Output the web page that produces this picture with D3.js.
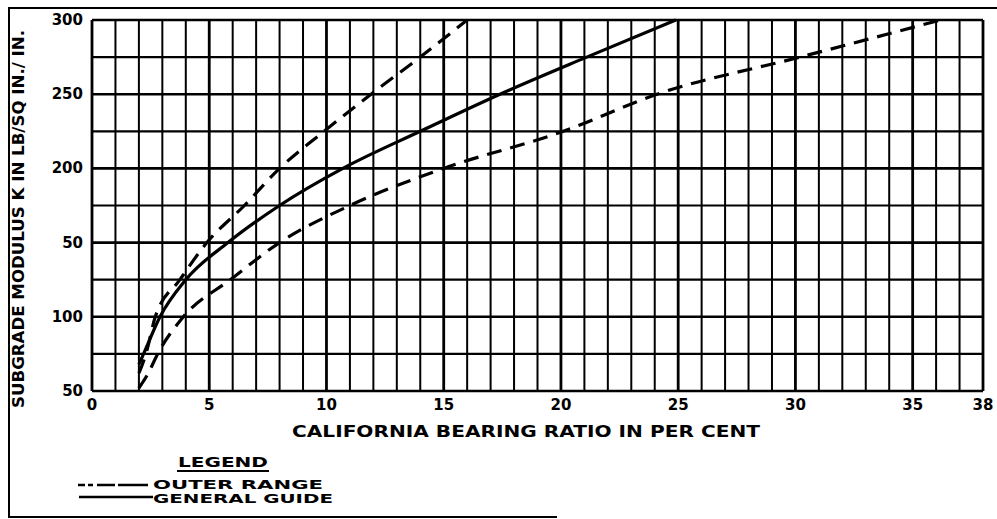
<!DOCTYPE html>
<html>
<head>
<meta charset="utf-8">
<script src="https://cdn.jsdelivr.net/npm/d3@7"></script>
<style>
  html, body { margin: 0; padding: 0; background: #fff; }
  svg text { font-family: "DejaVu Sans", sans-serif; font-weight: bold; fill: #000; }
</style>
</head>
<body>
<div id="chart"></div>
<script>
// Subgrade modulus K vs CBR

const xTickValues = [0, 5, 10, 15, 20, 25, 30, 35, 38];
const xTickLabels = ["0", "5", "10", "15", "20", "25", "30", "35", "38"];
const yTickValues = [50, 100, 150, 200, 250, 300];
const yTickLabels = ["50", "100", "50", "200", "250", "300"]; // as printed on the original

// CBR (%) at every 25 lb/sq in./in. gridline
const kLevels      = [50,  62,  75,  100, 125,  150, 175, 200,  225,  250,  275,  300];
const upperCbr     = [null, 2.0, 2.3, 2.7, 3.75, 4.9, 6.5, 8.0,  9.9,  11.9, 14.0, 16.0];
const guideCbr     = [null, null, 2.2, 2.9, 4.0, 5.8, 8.0, 10.7, 14.0, 17.4, 21.1, 24.9];
const lowerCbr     = [null, 2.4, 2.8, 3.9, 5.9,  8.0, 11.0, 15.0, 20.1, 24.1, 30.2, 36.2];
const guideStart   = { cbr: 2.0, k: 68 };
const lowerStart   = { cbr: 2.0, k: 52 };

const width = 997, height = 519;
const plot = { left: 92, right: 983, top: 20, bottom: 391 };

const svg = d3.select("#chart")
  .append("svg")
  .attr("width", width)
  .attr("height", height);

const x = d3.scaleLinear().domain([0, 38]).range([plot.left, plot.right]);
const y = d3.scaleLinear().domain([50, 300]).range([plot.bottom, plot.top]);

// frame of the figure
svg.append("path")
  .attr("d", `M8,8 H997 M9,8 V518 M8,517 H557`)
  .attr("stroke", "#000")
  .attr("stroke-width", 2)
  .attr("fill", "none");

// Grid
const grid = svg.append("g");
grid.selectAll(".vline")
  .data(d3.range(0, 39))
  .enter()
  .append("line")
  .attr("x1", d => x(d))
  .attr("x2", d => x(d))
  .attr("y1", plot.top)
  .attr("y2", plot.bottom)
  .attr("stroke", "#000")
  .attr("stroke-width", d => (d % 5 === 0 || d === 38) ? 2.8 : 2);

grid.selectAll(".hline")
  .data(d3.range(50, 301, 25))
  .enter()
  .append("line")
  .attr("x1", plot.left)
  .attr("x2", plot.right)
  .attr("y1", d => y(d))
  .attr("y2", d => y(d))
  .attr("stroke", "#000")
  .attr("stroke-width", d => (d % 50 === 0) ? 2.6 : 2.2);

// Axes labels
svg.append("g")
  .selectAll("text")
  .data(xTickValues)
  .enter()
  .append("text")
  .attr("x", d => x(d))
  .attr("y", plot.bottom + 19)
  .attr("text-anchor", "middle")
  .style("font-size", "15px")
  .text((d, i) => xTickLabels[i]);

svg.append("g")
  .selectAll("text")
  .data(yTickValues)
  .enter()
  .append("text")
  .attr("x", plot.left - 9)
  .attr("y", d => y(d) + 5)
  .attr("text-anchor", "end")
  .style("font-size", "15px")
  .text((d, i) => yTickLabels[i]);

svg.append("text")
  .attr("x", 292)
  .attr("y", 437)
  .attr("textLength", 468)
  .attr("lengthAdjust", "spacingAndGlyphs")
  .style("font-size", "15px")
  .text("CALIFORNIA BEARING RATIO IN PER CENT");

svg.append("text")
  .attr("transform", "translate(24,408) rotate(-90)")
  .attr("textLength", 378)
  .attr("lengthAdjust", "spacingAndGlyphs")
  .style("font-size", "15px")
  .text("SUBGRADE MODULUS K IN LB/SQ IN./ IN.");

// Curves
function toPoints(cbr, start) {
  const pts = [];
  if (start) pts.push(start);
  kLevels.forEach((k, i) => {
    if (cbr[i] != null) pts.push({ cbr: cbr[i], k: k });
  });
  return pts;
}

const upperPts = toPoints(upperCbr, null);
const guidePts = toPoints(guideCbr, guideStart);
const lowerPts = toPoints(lowerCbr, lowerStart);

const line = d3.line()
  .curve(d3.curveMonotoneX)
  .x(d => x(d.cbr))
  .y(d => y(d.k));

const curves = [
  { pts: upperPts, dash: "15,9" },
  { pts: lowerPts, dash: "15,9" },
  { pts: guidePts, dash: null }
];

svg.selectAll(".curve")
  .data(curves)
  .enter()
  .append("path")
  .attr("fill", "none")
  .attr("stroke", "#000")
  .attr("stroke-width", 3.2)
  .attr("stroke-dasharray", d => d.dash)
  .attr("d", d => line(d.pts));

// Legend
const legend = svg.append("g");
legend.append("text")
  .attr("x", 178)
  .attr("y", 467)
  .attr("textLength", 90)
  .attr("lengthAdjust", "spacingAndGlyphs")
  .style("font-size", "14px")
  .text("LEGEND");
legend.append("line")
  .attr("x1", 177).attr("x2", 269)
  .attr("y1", 471).attr("y2", 471)
  .attr("stroke", "#000").attr("stroke-width", 2);

legend.append("line")
  .attr("x1", 78).attr("x2", 153)
  .attr("y1", 485).attr("y2", 485)
  .attr("stroke", "#000").attr("stroke-width", 2.6)
  .attr("stroke-dasharray", "7,3,5,4,18,3,30");
legend.append("text")
  .attr("x", 153)
  .attr("y", 489)
  .attr("textLength", 170)
  .attr("lengthAdjust", "spacingAndGlyphs")
  .style("font-size", "13px")
  .text("OUTER RANGE");

legend.append("line")
  .attr("x1", 79).attr("x2", 153)
  .attr("y1", 497).attr("y2", 497)
  .attr("stroke", "#000").attr("stroke-width", 2.6);
legend.append("text")
  .attr("x", 153)
  .attr("y", 503)
  .attr("textLength", 180)
  .attr("lengthAdjust", "spacingAndGlyphs")
  .style("font-size", "13px")
  .text("GENERAL GUIDE");
</script>
</body>
</html>
